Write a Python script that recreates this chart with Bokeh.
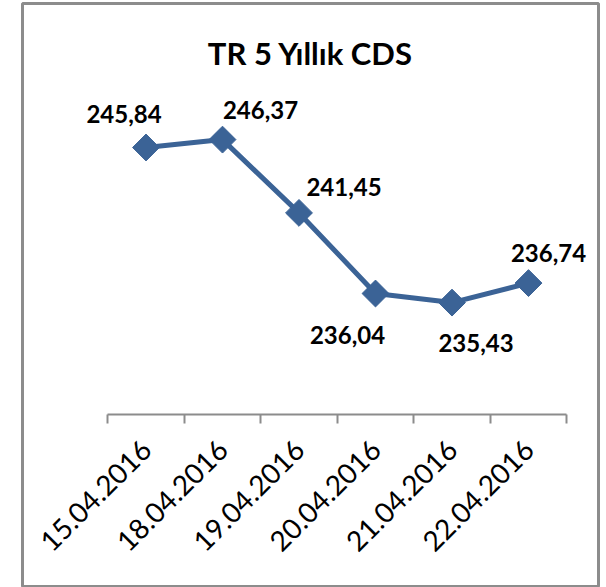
import math
from bokeh.plotting import figure
from bokeh.models import FixedTicker, Range1d, Label, ColumnDataSource
from bokeh.core.properties import value
from bokeh.embed import file_html
from bokeh.resources import INLINE

# ---- data ----
dates = ["15.04.2016", "18.04.2016", "19.04.2016", "20.04.2016", "21.04.2016", "22.04.2016"]
cds = [245.84, 246.37, 241.45, 236.04, 235.43, 236.74]
title_text = "TR 5 Yıllık CDS"

# label placement (screen px offsets from each point)
label_dx = [-22, 38, 45, -28, 24, 20]
label_dy = [-33, -30, -26, 41, 40, -30]

xs = list(range(1, len(dates) + 1))
labels = [f"{v:.2f}".replace(".", ",") for v in cds]

BLUE = "#3b6396"
GREY = "#8c8c8c"

X0, X1 = -0.6144, 6.915
Y0, Y1 = 216.377, 255.504

p = figure(width=600, height=587, output_backend="svg", toolbar_location=None,
           x_range=Range1d(X0, X1), y_range=Range1d(Y0, Y1),
           y_axis_location=None, min_border_left=22, min_border_right=2,
           min_border_top=3, min_border_bottom=1)
p.background_fill_color = "white"
p.border_fill_color = "white"
p.outline_line_color = GREY
p.outline_line_width = 3
p.xgrid.visible = False
p.ygrid.visible = False

ax = p.xaxis[0]
ax.fixed_location = 227.92
ax.bounds = (0.5, 6.5)
ax.ticker = FixedTicker(ticks=xs, minor_ticks=[x - 0.5 for x in xs] + [xs[-1] + 0.5])
ax.major_label_overrides = {x: d for x, d in zip(xs, dates)}
ax.major_label_orientation = math.pi / 4
ax.major_tick_out = 0
ax.major_tick_in = 0
ax.minor_tick_out = 9
ax.minor_tick_in = 0
ax.minor_tick_line_color = GREY
ax.minor_tick_line_width = 2
ax.axis_line_color = GREY
ax.axis_line_width = 2
ax.major_label_text_font = "Lato"
ax.major_label_text_font_size = "28px"
ax.major_label_text_color = "black"
ax.major_label_standoff = 21

src = ColumnDataSource(dict(x=xs, y=cds, lab=labels, dx=label_dx, dy=label_dy))
p.line("x", "y", source=src, line_color=BLUE, line_width=5)
p.scatter("x", "y", source=src, marker="square", angle=math.pi / 4, size=19,
          fill_color=BLUE, line_color=BLUE)
p.text("x", "y", text="lab", source=src, x_offset="dx", y_offset="dy",
       text_align="center", text_baseline="middle",
       text_font=value("Lato"), text_font_style="bold", text_font_size="24px",
       text_color="black")

p.add_layout(Label(x=(X0 + X1) / 2, y=252.149, text=title_text,
                   text_align="center", text_baseline="middle",
                   text_font="Lato", text_font_style="bold", text_font_size="31px",
                   text_color="black"))

open("out.html", "w").write(file_html(p, INLINE))
